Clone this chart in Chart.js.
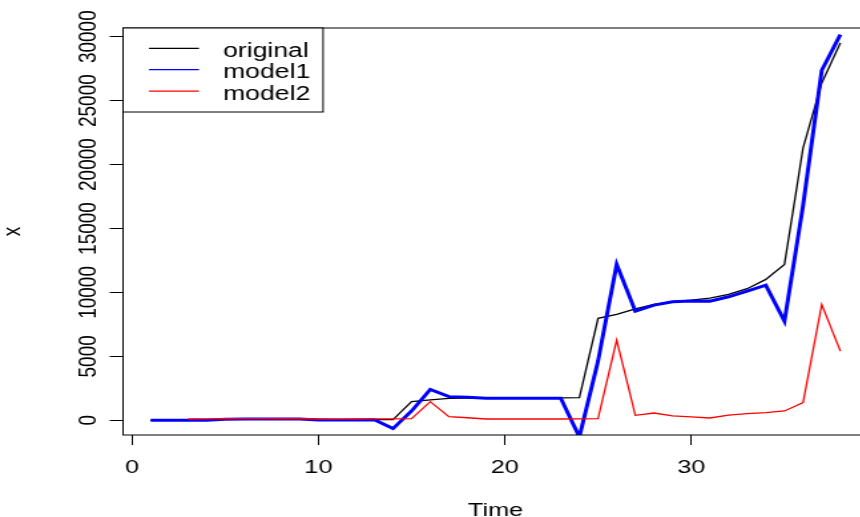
<!DOCTYPE html>
<html>
<head>
<meta charset="utf-8">
<script src="https://cdn.jsdelivr.net/npm/chart.js@4/dist/chart.umd.min.js"></script>
<style>
  html, body { margin: 0; padding: 0; background: #fff; overflow: hidden; width: 860px; height: 517px; }
  #wrap { position: absolute; left: 0; top: 0; transform: scaleX(1.33); transform-origin: 0 0; }
</style>
</head>
<body>
<div id="wrap"><canvas id="c" width="660" height="517"></canvas></div>
<script>
// ---- data ----
const time = [1,2,3,4,5,6,7,8,9,10,11,12,13,14,15,16,17,18,19,20,21,22,23,24,25,26,27,28,29,30,31,32,33,34,35,36,37,38];
const original = [0,0,10,20,90,100,100,100,100,40,30,40,50,60,1460,1600,1720,1740,1740,1750,1750,1760,1760,1770,7970,8280,8720,9060,9270,9400,9560,9840,10290,11020,12190,21300,26380,29510];
const model1 = [0,0,0,10,90,100,100,110,100,20,20,30,40,-650,730,2420,1850,1800,1720,1720,1720,1720,1720,-1300,4630,12190,8540,9010,9270,9330,9320,9660,10100,10570,7760,16800,27370,30160];
const model2 = [null,null,100,110,120,130,130,120,120,100,90,100,110,110,130,1460,290,200,100,100,100,100,100,110,130,6270,390,570,340,260,180,410,520,600,730,1380,9060,5410];
const seriesNames = ['original','model1','model2'];
const seriesColors = ['#000000','#0000ff','#ff0000'];
const xTicks = [0,10,20,30];
const yTicks = [0,5000,10000,15000,20000,25000,30000];
const xTitle = 'Time';
const yTitle = 'x';

const FONT = '"Liberation Sans", Arial, Helvetica, sans-serif';
const pts = arr => time.map((t,i)=>({x:t, y:arr[i]}));

const textPlugin = {
  id: 'rtext',
  afterDraw(chart) {
    const {ctx, chartArea: ca, scales: {x, y}} = chart;
    ctx.save();
    ctx.strokeStyle = '#000'; ctx.lineWidth = 1;
    ctx.strokeRect(ca.left, ca.top, ca.right-ca.left, ca.bottom-ca.top);
    ctx.fillStyle = '#000';
    ctx.font = '19px ' + FONT;
    ctx.textAlign = 'center';
    ctx.textBaseline = 'alphabetic';
    x.ticks.forEach(t => ctx.fillText(String(t.value), x.getPixelForValue(t.value), 473));
    y.ticks.forEach(t => {
      const py = y.getPixelForValue(t.value);
      ctx.save(); ctx.translate(72.2, py); ctx.rotate(-Math.PI/2);
      ctx.fillText(String(t.value), 0, 0); ctx.restore();
    });
    ctx.fillText(xTitle, (ca.left+ca.right)/2, 516);
    ctx.save(); ctx.translate(15, (ca.top+ca.bottom)/2); ctx.rotate(-Math.PI/2);
    ctx.fillText(yTitle, 0, 0); ctx.restore();
    // legend (topleft)
    const lx = ca.left, ly = ca.top, lw = 150.4, lh = 84;
    ctx.fillStyle = '#fff';
    ctx.fillRect(lx, ly, lw, lh);
    ctx.strokeStyle = '#000'; ctx.lineWidth = 1;
    ctx.strokeRect(lx, ly, lw, lh);
    ctx.textAlign = 'left';
    ctx.font = '20px ' + FONT;
    seriesNames.forEach((name, i) => {
      const yy = ly + 20.3 + i*21.4;
      ctx.strokeStyle = seriesColors[i]; ctx.lineWidth = 1.3;
      ctx.beginPath(); ctx.moveTo(112, yy); ctx.lineTo(149.6, yy); ctx.stroke();
      ctx.fillStyle = '#000';
      ctx.fillText(name, 167.7, yy + 8.7);
    });
    ctx.restore();
  }
};

new Chart(document.getElementById('c'), {
  type: 'line',
  data: {
    datasets: [
      {label: seriesNames[0], data: pts(original), borderColor: seriesColors[0], borderWidth: 1.3, order: 3},
      {label: seriesNames[1], data: pts(model1), borderColor: seriesColors[1], borderWidth: 3, order: 2},
      {label: seriesNames[2], data: pts(model2), borderColor: seriesColors[2], borderWidth: 1.3, order: 1}
    ]
  },
  options: {
    responsive: false,
    animation: false,
    devicePixelRatio: 1,
    elements: { point: { radius: 0 }, line: { tension: 0, fill: false } },
    layout: { padding: { left: 0, top: 28, right: 7.4, bottom: 0 } },
    plugins: { legend: { display: false }, tooltip: { enabled: false } },
    scales: {
      x: {
        type: 'linear', min: -0.48, max: 39.48,
        afterBuildTicks: s => { s.ticks = xTicks.map(v => ({value: v})); },
        afterFit: s => { s.height = 82; },
        ticks: { display: false },
        grid: { drawOnChartArea: false, drawTicks: true, tickLength: 10, color: '#000', lineWidth: 1 },
        border: { display: false }
      },
      y: {
        type: 'linear', min: -1150, max: 30680,
        afterBuildTicks: s => { s.ticks = yTicks.map(v => ({value: v})); },
        afterFit: s => { s.width = 92.5; },
        ticks: { display: false },
        grid: { drawOnChartArea: false, drawTicks: true, tickLength: 10, color: '#000', lineWidth: 1 },
        border: { display: false }
      }
    }
  },
  plugins: [textPlugin]
});
</script>
</body>
</html>
